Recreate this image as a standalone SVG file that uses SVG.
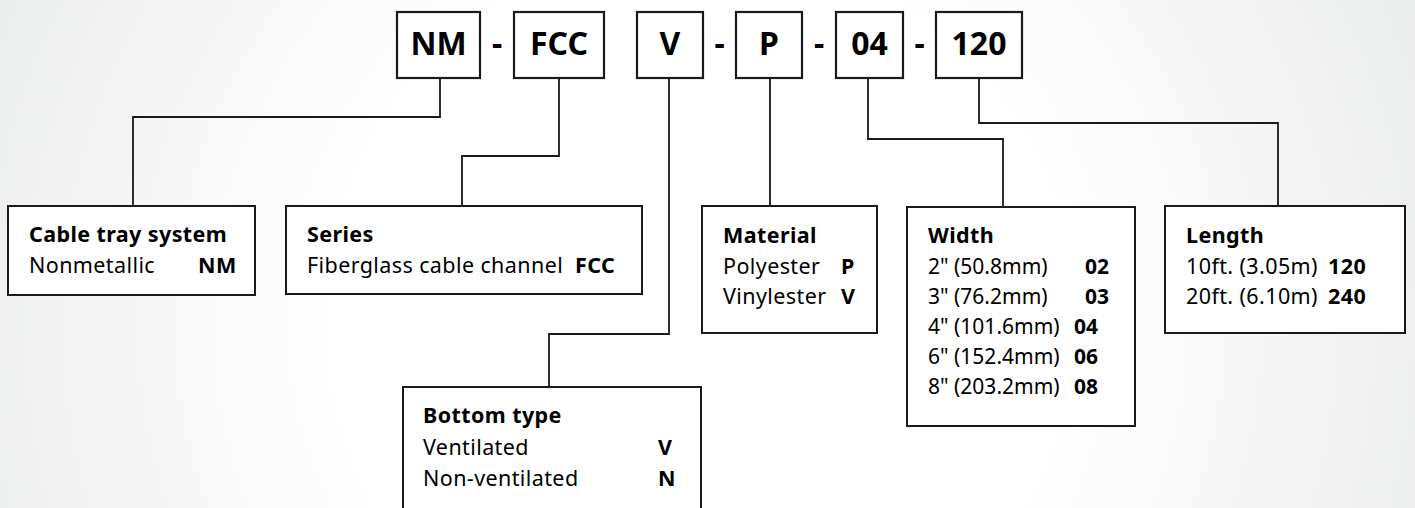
<svg xmlns="http://www.w3.org/2000/svg" width="1415" height="508" viewBox="0 0 1415 508">
  <defs>
    <radialGradient id="bg" cx="700" cy="320" r="820" gradientUnits="userSpaceOnUse">
      <stop offset="0" stop-color="#ffffff"/>
      <stop offset="0.45" stop-color="#ffffff"/>
      <stop offset="1" stop-color="#e9eaea"/>
    </radialGradient>
    <style>
      .code { fill: #ffffff; stroke: #1a1a1a; stroke-width: 2.2; }
      .box { fill: #ffffff; stroke: #1a1a1a; stroke-width: 2; }
      .conn { fill: none; stroke: #1a1a1a; stroke-width: 1.8; }
      .ct { font-family: "Noto Sans", "Open Sans", sans-serif; font-weight: 700; font-size: 32px; fill: #000; text-anchor: middle; }
      .t { font-family: "Noto Sans", "Open Sans", sans-serif; font-size: 21.5px; fill: #000; letter-spacing: 0.4px; }
      .n { font-size: 21px; letter-spacing: 0px; }
      .b { font-weight: 700; }
    </style>
  </defs>
  <rect x="0" y="0" width="1415" height="508" fill="url(#bg)"/>

  <g id="connectors">
    <polyline class="conn" points="440,78 440,117 133,117 133,206"/>
    <polyline class="conn" points="559,78 559,156 462,156 462,206"/>
    <polyline class="conn" points="669,78 669,334 549,334 549,387"/>
    <polyline class="conn" points="770,78 770,206"/>
    <polyline class="conn" points="868,78 868,139 1003,139 1003,207"/>
    <polyline class="conn" points="979,78 979,123 1278,123 1278,206"/>
  </g>

  <g id="code">
    <g id="code-nm"><rect class="code" x="397" y="12" width="83" height="66"/><text class="ct" x="438.5" y="55">NM</text></g>
    <text class="ct" x="497" y="55">-</text>
    <g id="code-fcc"><rect class="code" x="514" y="12" width="90" height="66"/><text class="ct" x="559" y="55">FCC</text></g>
    <g id="code-v"><rect class="code" x="637" y="12" width="66" height="66"/><text class="ct" x="670" y="55">V</text></g>
    <text class="ct" x="719.5" y="55">-</text>
    <g id="code-p"><rect class="code" x="736" y="12" width="66" height="66"/><text class="ct" x="769" y="55">P</text></g>
    <text class="ct" x="819" y="55">-</text>
    <g id="code-04"><rect class="code" x="836" y="12" width="67" height="66"/><text class="ct" x="869.5" y="55">04</text></g>
    <text class="ct" x="919.5" y="55">-</text>
    <g id="code-120"><rect class="code" x="936" y="12" width="86" height="66"/><text class="ct" x="979" y="55">120</text></g>
  </g>

  <g id="cable-tray-system">
    <rect class="box" x="8" y="206" width="247" height="89"/>
    <text class="t b" x="29" y="242">Cable tray system</text>
    <text class="t" x="29" y="273">Nonmetallic</text>
    <text class="t b" x="198" y="273">NM</text>
  </g>

  <g id="series">
    <rect class="box" x="286" y="206" width="356" height="88"/>
    <text class="t b" x="307" y="242">Series</text>
    <text class="t" x="307" y="273">Fiberglass cable channel</text>
    <text class="t b" x="575" y="273">FCC</text>
  </g>

  <g id="material">
    <rect class="box" x="702" y="206" width="175" height="127"/>
    <text class="t b" x="723" y="243">Material</text>
    <text class="t" x="723" y="274">Polyester</text>
    <text class="t b" x="841" y="274">P</text>
    <text class="t" x="723" y="304">Vinylester</text>
    <text class="t b" x="841" y="304">V</text>
  </g>

  <g id="width">
    <rect class="box" x="907" y="207" width="228" height="219"/>
    <text class="t b" x="928" y="243">Width</text>
    <text class="t n" x="928" y="274">2" (50.8mm)</text>
    <text class="t n b" x="1085" y="274">02</text>
    <text class="t n" x="928" y="304">3" (76.2mm)</text>
    <text class="t n b" x="1085" y="304">03</text>
    <text class="t n" x="928" y="334">4" (101.6mm)</text>
    <text class="t n b" x="1074" y="334">04</text>
    <text class="t n" x="928" y="364">6" (152.4mm)</text>
    <text class="t n b" x="1074" y="364">06</text>
    <text class="t n" x="928" y="394">8" (203.2mm)</text>
    <text class="t n b" x="1074" y="394">08</text>
  </g>

  <g id="length">
    <rect class="box" x="1165" y="206" width="240" height="127"/>
    <text class="t b" x="1186" y="243">Length</text>
    <text class="t" x="1186" y="274">10ft.  (3.05m)</text>
    <text class="t b" x="1328" y="274">120</text>
    <text class="t" x="1186" y="304">20ft. (6.10m)</text>
    <text class="t b" x="1328" y="304">240</text>
  </g>

  <g id="bottom-type">
    <rect class="box" x="403" y="387" width="298" height="140"/>
    <text class="t b" x="423" y="423">Bottom type</text>
    <text class="t" x="423" y="455">Ventilated</text>
    <text class="t b" x="658" y="455">V</text>
    <text class="t" x="423" y="486">Non-ventilated</text>
    <text class="t b" x="658" y="486">N</text>
  </g>
</svg>
